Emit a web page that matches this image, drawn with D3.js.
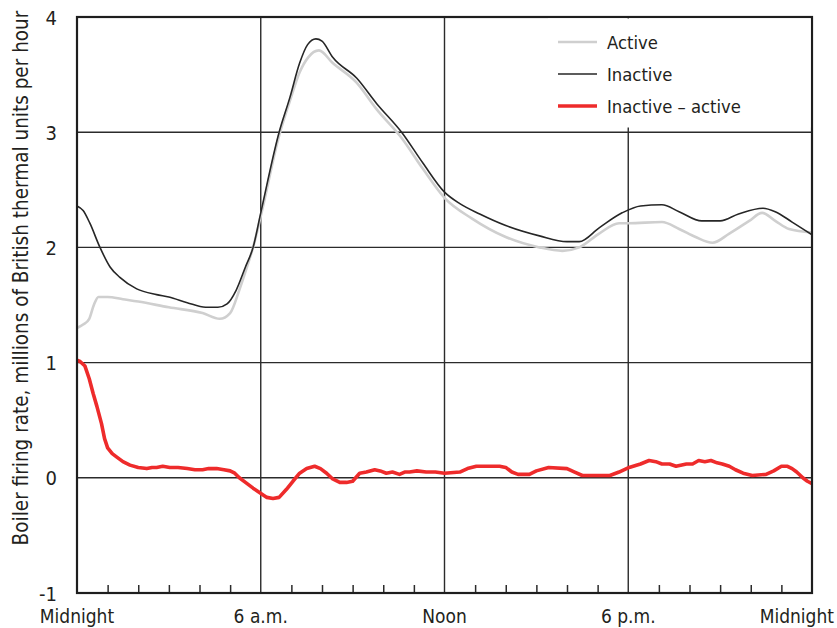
<!DOCTYPE html>
<html>
  <head>
    <meta charset="UTF-8">
    <title>Boiler firing rate</title>
    <script src="https://d3js.org/d3.v7.min.js"></script>
    <style>
      body { margin: 0; background: #fff; }
      text { font-family: "DejaVu Sans Condensed", "Liberation Sans Narrow", sans-serif; fill: #231f20; }
    </style>
  </head>
  <body>
    <div id="graph"></div>
    <script>

// hours after midnight -> millions of Btu per hour
const activeHours = [0, 0.2, 0.4, 0.55, 0.7, 1.0, 1.5, 2.0, 3.0, 4.1, 4.66, 5.0, 5.3, 5.55, 5.75, 6.0, 6.6, 6.95, 7.27, 7.55, 7.9, 8.35, 9.13, 9.78, 10.6, 11.3, 12.0, 12.9, 14.0, 15.1, 15.85, 16.4, 17.05, 17.7, 18.0, 19.1, 19.66, 20.2, 20.75, 21.3, 21.95, 22.37, 22.8, 23.25, 24];
const active = [1.30, 1.33, 1.38, 1.5, 1.57, 1.57, 1.55, 1.53, 1.48, 1.43, 1.38, 1.43, 1.63, 1.83, 2.0, 2.27, 2.97, 3.27, 3.52, 3.65, 3.71, 3.6, 3.43, 3.2, 2.95, 2.68, 2.43, 2.25, 2.09, 2.0, 1.97, 2.0, 2.12, 2.21, 2.21, 2.22, 2.16, 2.09, 2.04, 2.12, 2.23, 2.3, 2.23, 2.16, 2.13];

const inactiveHours = [0, 0.2, 0.42, 0.75, 1.08, 1.4, 1.95, 2.6, 3.0, 3.6, 4.2, 4.6, 4.9, 5.2, 5.5, 5.75, 6.0, 6.6, 6.95, 7.27, 7.53, 7.8, 8.0, 8.35, 9.13, 9.78, 10.6, 11.3, 12.0, 12.5, 13.15, 14.0, 15.1, 16.0, 16.4, 17.05, 17.8, 18.4, 19.1, 19.66, 20.4, 21.0, 21.6, 22.4, 22.8, 23.35, 24];
const inactive = [2.36, 2.32, 2.21, 2.0, 1.83, 1.74, 1.64, 1.59, 1.57, 1.52, 1.48, 1.48, 1.51, 1.63, 1.83, 2.0, 2.3, 3.0, 3.3, 3.6, 3.76, 3.81, 3.79, 3.65, 3.47, 3.25, 3.0, 2.73, 2.48, 2.38, 2.29, 2.19, 2.1, 2.05, 2.05, 2.17, 2.3, 2.36, 2.37, 2.31, 2.23, 2.23, 2.29, 2.34, 2.31, 2.22, 2.11];

const diffHours = [0, 0.1, 0.26, 0.4, 0.53, 0.65, 0.8, 0.9, 1.0, 1.15, 1.3, 1.5, 1.73, 2.0, 2.28, 2.45, 2.6, 2.8, 3.03, 3.3, 3.6, 3.85, 4.1, 4.3, 4.56, 4.8, 5.0, 5.15, 5.3, 5.5, 5.75, 5.97, 6.2, 6.4, 6.6, 6.84, 7.05, 7.27, 7.5, 7.76, 7.95, 8.15, 8.35, 8.58, 8.8, 9.0, 9.23, 9.45, 9.72, 9.9, 10.1, 10.3, 10.53, 10.7, 10.86, 11.1, 11.4, 11.7, 12.0, 12.5, 12.75, 13.04, 13.4, 13.8, 14.0, 14.2, 14.4, 14.77, 15.0, 15.4, 16.0, 16.25, 16.5, 17.0, 17.4, 17.7, 18.03, 18.4, 18.68, 18.9, 19.1, 19.35, 19.56, 19.9, 20.1, 20.3, 20.5, 20.7, 20.9, 21.07, 21.3, 21.5, 21.75, 22.05, 22.5, 22.75, 23.0, 23.2, 23.35, 23.5, 23.7, 23.85, 24];
const diff = [1.02, 1.01, 0.97, 0.86, 0.73, 0.62, 0.47, 0.34, 0.26, 0.21, 0.18, 0.14, 0.11, 0.09, 0.08, 0.09, 0.09, 0.1, 0.09, 0.09, 0.08, 0.07, 0.07, 0.08, 0.08, 0.07, 0.06, 0.04, 0.0, -0.04, -0.09, -0.13, -0.17, -0.18, -0.17, -0.1, -0.03, 0.04, 0.08, 0.1, 0.08, 0.04, -0.01, -0.04, -0.04, -0.03, 0.04, 0.05, 0.07, 0.06, 0.04, 0.05, 0.03, 0.05, 0.05, 0.06, 0.05, 0.05, 0.04, 0.05, 0.08, 0.1, 0.1, 0.1, 0.09, 0.05, 0.03, 0.03, 0.06, 0.09, 0.08, 0.05, 0.02, 0.02, 0.02, 0.05, 0.09, 0.12, 0.15, 0.14, 0.12, 0.12, 0.1, 0.12, 0.12, 0.15, 0.14, 0.15, 0.13, 0.12, 0.1, 0.07, 0.04, 0.02, 0.03, 0.06, 0.1, 0.1, 0.08, 0.05, 0.0, -0.03, -0.05];

const xTickHours = [0, 6, 12, 18, 24];
const xTickLabels = ["Midnight", "6 a.m.", "Noon", "6 p.m.", "Midnight"];
const yTicks = [-1, 0, 1, 2, 3, 4];
const legendLabels = ["Active", "Inactive", "Inactive \u2013 active"];

const svgWidth = 837;
const svgHeight = 628;

const svg = d3.select("#graph")
  .append("svg")
  .attr("width", svgWidth)
  .attr("height", svgHeight);

const x = d3.scaleLinear().domain([0, 24]).range([77, 812]);
const y = d3.scaleLinear().domain([-1, 4]).range([593, 17]);

// grid
const grid = svg.append("g").attr("stroke", "#2b2b2b").attr("stroke-width", 1.4);
grid.selectAll(".hg")
  .data(yTicks.filter(d => d > -1 && d < 4))
  .enter().append("line")
  .attr("x1", x(0)).attr("x2", x(24))
  .attr("y1", d => y(d)).attr("y2", d => y(d));
grid.selectAll(".vg")
  .data(xTickHours.filter(d => d > 0 && d < 24))
  .enter().append("line")
  .attr("x1", d => x(d)).attr("x2", d => x(d))
  .attr("y1", y(4)).attr("y2", y(-1));

// hourly minor ticks
const xAxis = d3.axisBottom(x)
  .tickValues(d3.range(1, 24).filter(h => h % 6 !== 0))
  .tickSize(-8)
  .tickFormat("");
const xa = svg.append("g")
  .attr("transform", "translate(0," + y(-1) + ")")
  .call(xAxis);
xa.select(".domain").remove();
xa.selectAll("line").attr("stroke", "#2b2b2b").attr("stroke-width", 1.5);

// lines
const line = d3.line()
  .x(d => x(d[0]))
  .y(d => y(d[1]));

svg.append("path")
  .datum(d3.zip(activeHours, active))
  .attr("fill", "none")
  .attr("stroke", "#cfcfcf")
  .attr("stroke-width", 2.6)
  .attr("d", line.curve(d3.curveMonotoneX));

svg.append("path")
  .datum(d3.zip(inactiveHours, inactive))
  .attr("fill", "none")
  .attr("stroke", "#262626")
  .attr("stroke-width", 1.6)
  .attr("d", line.curve(d3.curveMonotoneX));

svg.append("path")
  .datum(d3.zip(diffHours, diff))
  .attr("fill", "none")
  .attr("stroke", "#ee2b2b")
  .attr("stroke-width", 3.6)
  .attr("stroke-linejoin", "round")
  .attr("d", line.curve(d3.curveLinear));

// frame
svg.append("rect")
  .attr("x", x(0)).attr("y", y(4))
  .attr("width", x(24) - x(0)).attr("height", y(-1) - y(4))
  .attr("fill", "none")
  .attr("stroke", "#1e1e1e")
  .attr("stroke-width", 2.2);

// legend
const legend = svg.append("g");
legend.append("rect")
  .attr("x", 548).attr("y", y(4) + 1.5)
  .attr("width", x(24) - 549.5).attr("height", 109)
  .attr("fill", "#fff");
const legendColors = ["#cfcfcf", "#262626", "#ee2b2b"];
const legendWidths = [2.6, 1.6, 3.6];
legendLabels.forEach((lab, i) => {
  const ly = 42 + i * 32;
  legend.append("line")
    .attr("x1", 558).attr("x2", 597)
    .attr("y1", ly).attr("y2", ly)
    .attr("stroke", legendColors[i])
    .attr("stroke-width", legendWidths[i]);
  legend.append("text")
    .attr("x", 607).attr("y", ly + 7)
    .attr("font-size", 18.3)
    .text(lab);
});

// y tick labels
svg.selectAll(".ylab")
  .data(yTicks)
  .enter().append("text")
  .attr("x", 57)
  .attr("y", d => y(d) + 7.5)
  .attr("text-anchor", "end")
  .attr("font-size", 20)
  .text(d => d);

// x tick labels
svg.selectAll(".xlab")
  .data(xTickHours)
  .enter().append("text")
  .attr("x", (d, i) => i === xTickHours.length - 1 ? 834 : x(d))
  .attr("y", 623)
  .attr("text-anchor", (d, i) => i === xTickHours.length - 1 ? "end" : "middle")
  .attr("font-size", 19)
  .text((d, i) => xTickLabels[i]);

// y title
svg.append("text")
  .attr("transform", "translate(28,278) rotate(-90)")
  .attr("text-anchor", "middle")
  .attr("font-size", 20.5)
  .text("Boiler firing rate, millions of British thermal units per hour");

    </script>
  </body>
</html>
